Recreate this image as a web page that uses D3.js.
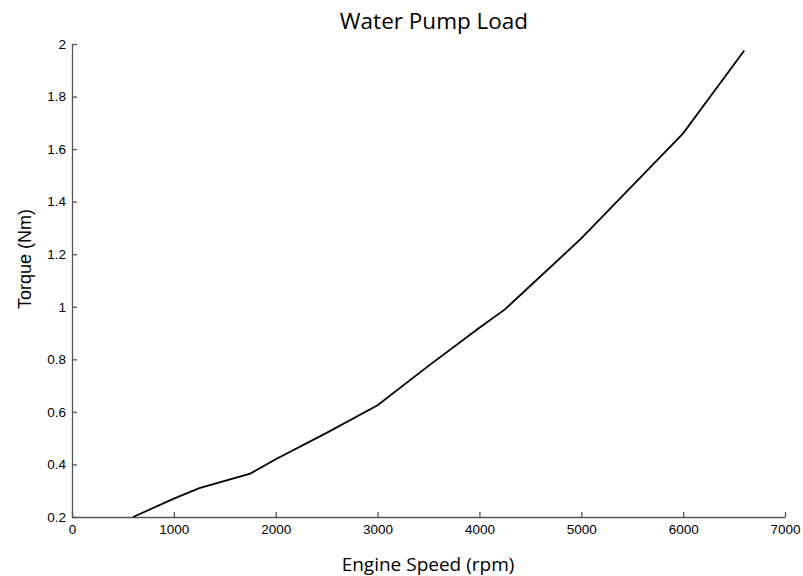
<!DOCTYPE html>
<html lang="en">
<head>
  <meta charset="UTF-8">
  <title>Water Pump Load</title>
  <script src="https://d3js.org/d3.v7.min.js"></script>
  <style>
    body { margin: 0; background: #fff; }
  </style>
</head>
<body>
<div id="chart"></div>
<script>
// Engine speed (rpm) and torque (Nm)
const speed  = [600, 1000, 1250, 1750, 2000, 2500, 3000, 3500, 4000, 4250, 4500, 5000, 5500, 6000, 6600];
const torque = [0.20, 0.27, 0.31, 0.365, 0.42, 0.52, 0.625, 0.775, 0.92, 0.99, 1.08, 1.26, 1.46, 1.66, 1.975];
const xTicks = [0, 1000, 2000, 3000, 4000, 5000, 6000, 7000];
const yTicks = [0.2, 0.4, 0.6, 0.8, 1, 1.2, 1.4, 1.6, 1.8, 2];

const W = 803, H = 576;
const margin = { top: 44, right: 18, bottom: 59, left: 72 };
const width = W - margin.left - margin.right;
const height = H - margin.top - margin.bottom;

const svg = d3.select("#chart").append("svg")
  .attr("width", W)
  .attr("height", H);

const g = svg.append("g")
  .attr("transform", `translate(${margin.left},${margin.top})`);

const x = d3.scaleLinear().domain([0, 7000]).range([0, width]);
const y = d3.scaleLinear().domain([0.2, 2]).range([height, 0]);

// axes, ticks pointing inward like matlab
const xAxis = g.append("g")
  .attr("transform", `translate(0,${height})`)
  .call(d3.axisBottom(x).tickValues(xTicks).tickSizeInner(-5).tickSizeOuter(0).tickFormat(d3.format("d")));
xAxis.selectAll("text")
  .attr("y", 7)
  .attr("dy", "0.71em")
  .style("font-family", "'Liberation Sans', Arial, sans-serif")
  .style("font-size", "13.5px")
  .style("fill", "#000");

const yAxis = g.append("g")
  .call(d3.axisLeft(y).tickValues(yTicks).tickSizeInner(-5).tickSizeOuter(0).tickFormat(d => String(d)));
yAxis.selectAll("text")
  .attr("x", -6)
  .style("font-family", "'Liberation Sans', Arial, sans-serif")
  .style("font-size", "13.5px")
  .style("fill", "#000");

g.selectAll(".domain, .tick line")
  .attr("stroke", "#555")
  .attr("stroke-width", 1.3);

// the curve
const line = d3.line()
  .x((d, i) => x(speed[i]))
  .y(d => y(d));

g.append("path")
  .datum(torque)
  .attr("fill", "none")
  .attr("stroke", "#000")
  .attr("stroke-width", 1.8)
  .attr("d", line);

// title and labels
svg.append("text")
  .attr("x", 434)
  .attr("y", 29)
  .attr("text-anchor", "middle")
  .style("font-family", "'Open Sans', sans-serif")
  .style("font-size", "22.5px")
  .text("Water Pump Load");

svg.append("text")
  .attr("x", 428)
  .attr("y", 571)
  .attr("text-anchor", "middle")
  .style("font-family", "'Open Sans', sans-serif")
  .style("font-size", "19px")
  .text("Engine Speed (rpm)");

svg.append("text")
  .attr("transform", "translate(31,259) rotate(-90)")
  .attr("text-anchor", "middle")
  .style("font-family", "'Liberation Sans', Arial, sans-serif")
  .style("font-size", "18px")
  .text("Torque (Nm)");
</script>
</body>
</html>
